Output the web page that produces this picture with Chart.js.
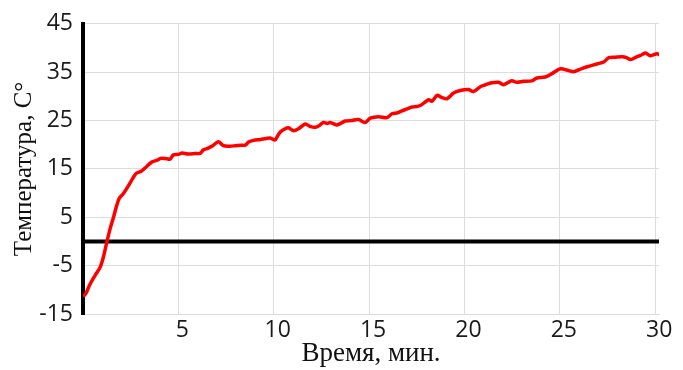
<!DOCTYPE html>
<html>
<head>
<meta charset="utf-8">
<script src="https://cdn.jsdelivr.net/npm/chart.js@4"></script>
<style>
  body { margin: 0; background: #fff; }
  #wrap { width: 683px; height: 370px; }
</style>
</head>
<body>
<div id="wrap"><canvas id="tempChart" width="683" height="370"></canvas></div>
<script>
// time, min
const timeMin = [
  0, 0.15, 0.3, 0.5, 0.7, 0.9, 1.07, 1.24, 1.42, 1.6, 1.75, 1.9, 2.12, 2.38, 2.6, 2.8,
  3.05, 3.34, 3.6, 3.9, 4.1, 4.4, 4.56, 4.74, 5.0, 5.2, 5.5, 5.9, 6.14, 6.3, 6.5, 6.8,
  7.1, 7.36, 7.7, 8.0, 8.3, 8.5, 8.7, 8.94, 9.3, 9.6, 9.81, 10.07, 10.2, 10.34, 10.6, 10.77,
  11.03, 11.3, 11.65, 11.9, 12.17, 12.4, 12.6, 12.8, 12.96, 13.3, 13.5, 13.74, 14.1, 14.44,
  14.79, 15.06, 15.5, 15.94, 16.2, 16.5, 16.72, 17.0, 17.25, 17.5, 17.68, 17.9, 18.12, 18.3,
  18.56, 18.8, 19.08, 19.43, 19.78, 20.2, 20.47, 20.83, 21.1, 21.44, 21.79, 22.05, 22.3, 22.49,
  22.75, 23.1, 23.54, 23.8, 24.24, 24.59, 25.03, 25.4, 25.73, 26.0, 26.25, 26.6, 26.95, 27.3,
  27.57, 27.9, 28.27, 28.5, 28.7, 29.05, 29.3, 29.49, 29.75, 30.1, 30.23
];
// temperature, °C
const tempC = [
  -11.4, -10.8, -9.4, -7.9, -6.6, -5.3, -3.2, -0.3, 2.6, 5.0, 7.2, 8.9, 9.9, 11.5, 13.0, 14.1,
  14.5, 15.5, 16.4, 16.8, 17.2, 17.1, 17.0, 17.9, 18.0, 18.3, 18.1, 18.2, 18.2, 18.9, 19.2, 19.8,
  20.6, 19.8, 19.7, 19.8, 19.9, 19.9, 20.6, 20.9, 21.1, 21.3, 21.4, 21.0, 21.8, 22.6, 23.3, 23.5,
  22.9, 23.3, 24.3, 23.8, 23.6, 24.0, 24.6, 24.4, 24.6, 24.1, 24.4, 24.9, 25.0, 25.2,
  24.6, 25.5, 25.8, 25.6, 26.4, 26.6, 27.0, 27.4, 27.8, 27.9, 28.1, 28.7, 29.3, 29.0,
  30.2, 29.8, 29.5, 30.7, 31.2, 31.4, 31.0, 32.0, 32.4, 32.8, 32.9, 32.4, 32.9, 33.2,
  32.9, 33.1, 33.2, 33.8, 34.0, 34.7, 35.7, 35.4, 35.1, 35.5, 35.9, 36.3, 36.7, 37.1,
  38.0, 38.1, 38.2, 38.0, 37.6, 38.2, 38.6, 38.95, 38.4, 38.8, 38.6
];
const xTicks = [5, 10, 15, 20, 25, 30];
const yTicks = [-15, -5, 5, 15, 25, 35, 45];
const zeroLineX = [0, 30.2];
const zeroLineY = [0, 0];

const tickFont = { family: 'Open Sans', size: 23 };

const ctx = document.getElementById('tempChart').getContext('2d');
new Chart(ctx, {
  type: 'line',
  data: {
    datasets: [{
      data: timeMin.map((t, i) => ({ x: t, y: tempC[i] })),
      borderColor: '#ff0000',
      borderWidth: 3.5,
      pointRadius: 0,
      tension: 0.3
    }, {
      data: zeroLineX.map((t, i) => ({ x: t, y: zeroLineY[i] })),
      borderColor: '#000000',
      borderWidth: 4,
      pointRadius: 0
    }]
  },
  options: {
    responsive: false,
    animation: false,
    layout: { padding: { left: 0, right: 24, top: 17, bottom: 0 } },
    plugins: { legend: { display: false }, tooltip: { enabled: false } },
    scales: {
      x: {
        type: 'linear',
        min: 0,
        max: 30.2,
        afterBuildTicks: s => { s.ticks = xTicks.map(v => ({ value: v })); },
        afterFit: s => { s.height = 56; },
        grid: { color: '#dddddd', lineWidth: 1, drawTicks: false },
        border: { color: '#dddddd', width: 1 },
        ticks: { font: tickFont, color: '#1a1a1a', padding: 3, labelOffset: 4, maxRotation: 0 },
        title: { display: true, text: 'Время, мин.', font: { family: 'Liberation Serif', size: 27 }, color: '#111', padding: { top: -10, bottom: 0 } }
      },
      y: {
        min: -15,
        max: 45,
        afterBuildTicks: s => { s.ticks = yTicks.map(v => ({ value: v })); },
        afterFit: s => { s.width = 83; },
        grid: { color: '#dddddd', lineWidth: 1, drawTicks: false },
        border: { color: '#000000', width: 4 },
        ticks: { font: tickFont, color: '#1a1a1a', padding: 10 },
        title: { display: true, text: 'Температура, С°', font: { family: 'Liberation Serif', size: 25 }, color: '#111', padding: { top: 9, bottom: 0 } }
      }
    }
  }
});
</script>
</body>
</html>
